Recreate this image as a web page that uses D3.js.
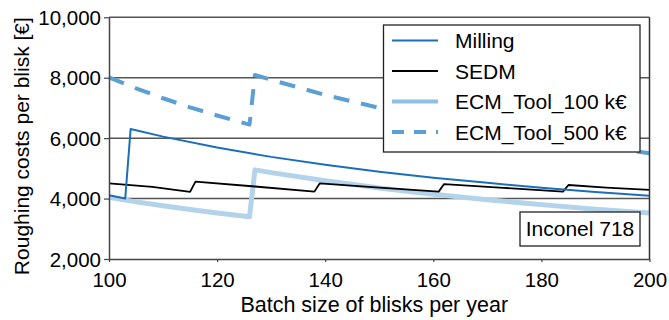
<!DOCTYPE html>
<html>
<head>
<meta charset="utf-8">
<script src="https://cdn.jsdelivr.net/npm/d3@7/dist/d3.min.js"></script>
<style>
  html, body { margin: 0; padding: 0; background: #fff; }
  svg { display: block; font-family: "Liberation Sans", Arial, sans-serif; }
</style>
</head>
<body>
<svg id="chart" width="669" height="320"></svg>
<script>
// Roughing costs per blisk vs. annual batch size (Inconel 718)
const batchMilling = [100, 103, 104, 110, 120, 130, 140, 150, 160, 170, 180, 190, 200];
const costMilling  = [4110, 4000, 6300, 6050, 5690, 5380, 5120, 4890, 4690, 4520, 4360, 4220, 4090];

const batchSEDM = [100, 108, 115, 116, 127, 138, 139, 150, 161, 162, 173, 184, 185, 192, 200];
const costSEDM  = [4500, 4390, 4220, 4560, 4400, 4230, 4505, 4360, 4230, 4480, 4355, 4230, 4450, 4360, 4285];

const batchECM = [100, 105, 110, 115, 120, 126, 127, 130, 140, 150, 160, 170, 180, 190, 200];
const costECM100 = [4040, 3890, 3760, 3640, 3520, 3400, 4950, 4860, 4590, 4350, 4140, 3960, 3800, 3650, 3520];
const costECM500 = [8010, 7650, 7320, 7020, 6750, 6450, 8090, 7930, 7430, 7000, 6630, 6300, 6000, 5740, 5500];

const xTicks = [100, 120, 140, 160, 180, 200];
const yTicks = [2000, 4000, 6000, 8000, 10000];
const gridValues = [4000, 6000, 8000, 10000];

const seriesNames = ["Milling", "SEDM", "ECM_Tool_100 k€", "ECM_Tool_500 k€"];
const materialLabel = "Inconel 718";
const xTitle = "Batch size of blisks per year";
const yTitle = "Roughing costs per blisk [€]";

const styles = {
  "Milling":          { color: "#1b6fb9", width: 2,   dash: null },
  "SEDM":             { color: "#000000", width: 1.8, dash: null },
  "ECM_Tool_100 k€":  { color: "#b3d3eb", width: 5,   dash: null },
  "ECM_Tool_500 k€":  { color: "#5ca0d3", width: 4,   dash: "16,12" }
};

const series = [
  { name: "ECM_Tool_100 k€", xs: batchECM, ys: costECM100 },
  { name: "ECM_Tool_500 k€", xs: batchECM, ys: costECM500 },
  { name: "SEDM", xs: batchSEDM, ys: costSEDM },
  { name: "Milling", xs: batchMilling, ys: costMilling }
];

const plotL = 109, plotR = 649.5, plotT = 17.3, plotB = 259;
const svg = d3.select("#chart");

const x = d3.scaleLinear().domain([100, 200]).range([plotL, plotR]);
const y = d3.scaleLinear().domain([2000, 10000]).range([plotB, plotT]);

// horizontal grid
svg.append("g").selectAll("line").data(gridValues).join("line")
  .attr("x1", plotL).attr("x2", plotR)
  .attr("y1", d => y(d)).attr("y2", d => y(d))
  .attr("stroke", "#555").attr("stroke-width", 1.5);

// series lines
const line = d3.line().x(d => x(d[0])).y(d => y(d[1]));
svg.append("g").selectAll("path").data(series).join("path")
  .attr("d", s => line(s.xs.map((v, i) => [v, s.ys[i]])))
  .attr("fill", "none")
  .attr("stroke", s => styles[s.name].color)
  .attr("stroke-width", s => styles[s.name].width)
  .attr("stroke-dasharray", s => styles[s.name].dash)
  .attr("stroke-linejoin", "round");

// frame: right border
svg.append("line")
  .attr("x1", plotR).attr("x2", plotR).attr("y1", plotT).attr("y2", plotB)
  .attr("stroke", "#333").attr("stroke-width", 1.5);

// axes
const xAxis = svg.append("g").attr("transform", `translate(0,${plotB})`)
  .call(d3.axisBottom(x).tickValues(xTicks).tickSize(3).tickSizeOuter(0).tickPadding(10));
const yAxis = svg.append("g").attr("transform", `translate(${plotL},0)`)
  .call(d3.axisLeft(y).tickValues(yTicks).tickSize(5).tickSizeOuter(0).tickPadding(3)
    .tickFormat(d3.format(",")));

[xAxis, yAxis].forEach(g => {
  g.select(".domain").attr("stroke", "#444").attr("stroke-width", 1.5);
  g.selectAll(".tick line").attr("stroke", "#444").attr("stroke-width", 1.2);
  g.selectAll(".tick text").attr("fill", "#000").style("font-size", "20.5px")
    .style("font-family", "'Liberation Sans', Arial, sans-serif");
});
yAxis.selectAll(".tick text").attr("dy", "0.35em");

// axis titles
svg.append("text")
  .attr("x", (plotL + plotR) / 2 - 5).attr("y", 312)
  .attr("text-anchor", "middle").style("font-size", "21.5px")
  .text(xTitle);
svg.append("text")
  .attr("transform", `translate(29,${(plotT + plotB) / 2 + 8}) rotate(-90)`)
  .attr("text-anchor", "middle").style("font-size", "21px")
  .text(yTitle);

// legend
const lg = svg.append("g");
lg.append("rect")
  .attr("x", 383.5).attr("y", 25).attr("width", 256.5).attr("height", 127)
  .attr("fill", "#fff").attr("stroke", "#222").attr("stroke-width", 1.3);
const rowY = d3.scaleLinear().domain([0, 3]).range([40.5, 132]);
seriesNames.forEach((name, i) => {
  const st = styles[name];
  lg.append("line")
    .attr("x1", 392).attr("x2", 438).attr("y1", rowY(i)).attr("y2", rowY(i))
    .attr("stroke", name === "ECM_Tool_100 k€" ? "#8fbfe2" : st.color)
    .attr("stroke-width", name === "ECM_Tool_100 k€" ? 4 : (name === "ECM_Tool_500 k€" ? 4 : 2))
    .attr("stroke-dasharray", name === "ECM_Tool_500 k€" ? "12,10" : null);
  lg.append("text")
    .attr("x", 455).attr("y", rowY(i) + 7.5)
    .style("font-size", "21px").text(name);
});

// material label
svg.append("rect")
  .attr("x", 520).attr("y", 212).attr("width", 120).attr("height", 34)
  .attr("fill", "#fff").attr("stroke", "#222").attr("stroke-width", 1.3);
svg.append("text")
  .attr("x", 580).attr("y", 236).attr("text-anchor", "middle")
  .style("font-size", "21px").text(materialLabel);
</script>
</body>
</html>
